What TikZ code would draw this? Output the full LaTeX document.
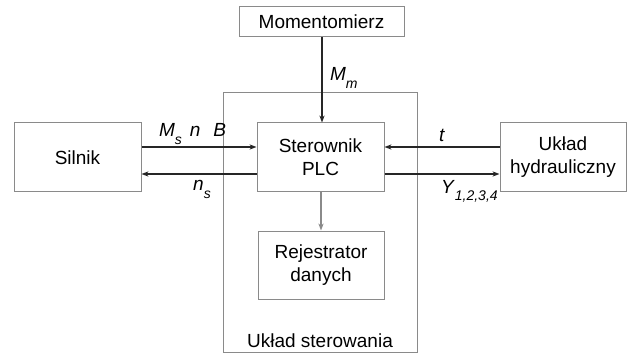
\documentclass[tikz,border=0pt]{standalone}
\usepackage{fontspec}
\setmainfont{Liberation Sans}
\usepackage{xcolor}
\usepackage{tikz}
\usetikzlibrary{positioning,arrows.meta}
\definecolor{ramka}{HTML}{8A8A8A}
\newcommand{\idx}[2]{\textit{#1}\raisebox{-3.6pt}{\fontsize{7}{8}\selectfont\textit{#2}}}

\begin{document}
\begin{tikzpicture}[x=0.5pt,y=-0.5pt,
  font=\fontsize{9.5}{11.5}\selectfont,
  blok/.style={draw=ramka,line width=0.5pt,align=center,inner sep=0pt},
  sygn/.style={-{Stealth[length=3.5pt,width=2.6pt]},line width=0.65pt,color=black!85}]

\useasboundingbox (0,0) rectangle (627,353);

\node[blok,minimum width=97pt,minimum height=129.5pt] (ust) at (320,222.5) {};
\node[blok,minimum width=82.5pt,minimum height=15pt] (mom) at (321.5,22) {Momentomierz};
\node[blok,minimum width=63.5pt,minimum height=34.5pt] (plc) at (320.5,157.5) {Sterownik\\PLC};
\node[blok,minimum width=63pt,minimum height=34pt] (rej) at (321,265) {Rejestrator\\danych};
\node[blok,minimum width=63.5pt,minimum height=34.5pt] (sil) at (77.5,157.5) {Silnik};
\node[blok,minimum width=63pt,minimum height=34.5pt] (hyd) at (563,157.5) {Układ\\hydrauliczny};
\node[anchor=base] (ustl) at (320,347) {Układ sterowania};

\draw[sygn] (mom.south -| 322,0) -- (plc.north -| 322,0) ;
\draw[sygn] ([yshift=5.25pt]sil.east) -- ([yshift=5.25pt]plc.west) ;
\draw[sygn] ([yshift=-8.25pt]plc.west) -- ([yshift=-8.25pt]sil.east) ;
\draw[sygn] ([yshift=5.25pt]hyd.west) -- ([yshift=5.25pt]plc.east) ;
\draw[sygn] ([yshift=-8.25pt]plc.east) -- ([yshift=-8.25pt]hyd.west) ;
\draw[sygn,draw=ramka,fill=black!70] (plc.south -| 321,0) -- (rej.north -| 321,0) ;

\node[anchor=base west] (lmm) at (323,81) {\idx{M}{m}};
\node[anchor=base west] (lms) at (152,137) {\idx{M}{s}\hspace{4pt}\textit{n}\hspace{6.5pt}\textit{B}};
\node[anchor=base] (lns) at (202,191) {\idx{n}{s}};
\node[anchor=base] (lt) at (442,142) {\textit{t}};
\node[anchor=base west] (ly) at (434,193) {\idx{Y}{1,2,3,4}};

\end{tikzpicture}
\end{document}
